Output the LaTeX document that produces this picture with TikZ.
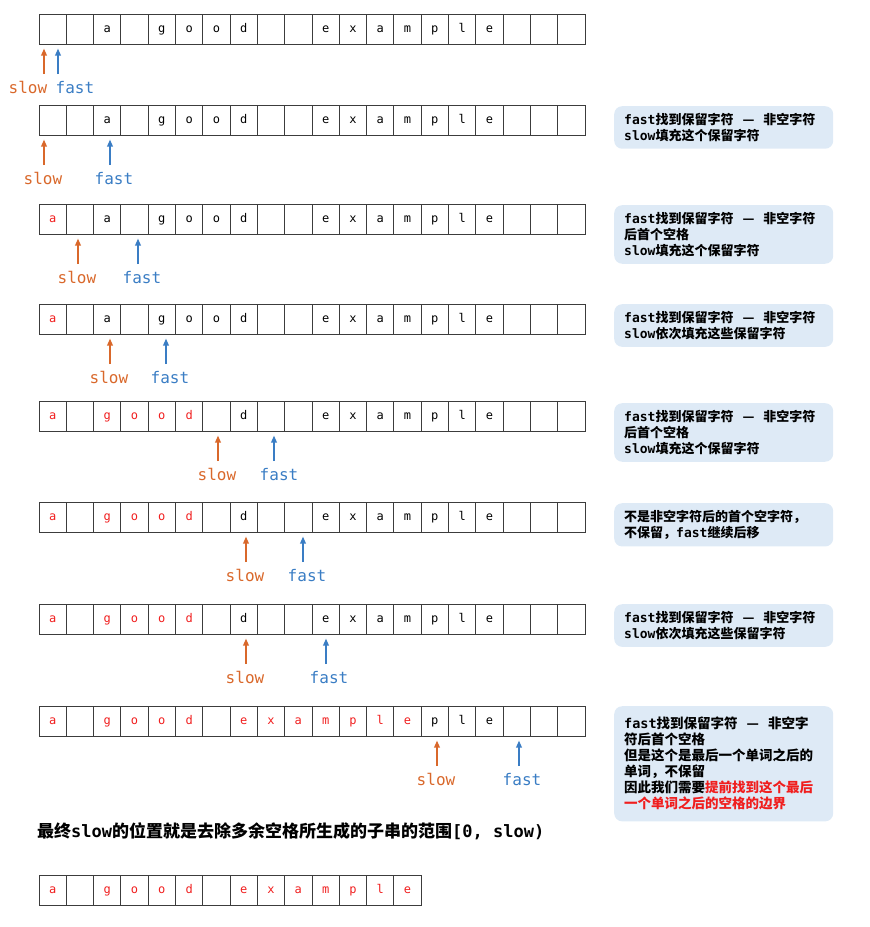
\documentclass[tikz,border=0pt]{standalone}
\usepackage{fontspec}
\usetikzlibrary{arrows.meta}
\newfontfamily\cjk{Noto Sans CJK SC}
\newfontfamily\mono{DejaVu Sans Mono}
\newcommand{\tm}[1]{{\mono #1}}
\definecolor{slowc}{RGB}{217,104,43}
\definecolor{fastc}{RGB}{58,125,196}
\definecolor{keepc}{RGB}{240,30,30}
\definecolor{notec}{RGB}{222,234,246}
\definecolor{cellc}{RGB}{60,60,60}
\tikzset{
	cell/.style={draw=cellc, line width=1pt, minimum width=27.3pt, minimum height=30pt,
		inner sep=0pt, text height=7pt, text depth=0pt, font=\mono\fontsize{12}{12}\selectfont},
	lab/.style={inner sep=0pt, font=\mono\fontsize{16}{16}\selectfont},
	ptr/.style={line width=1.6pt, -{Triangle[length=7pt,width=5.5pt]}, shorten >=4pt},
	note/.style={fill=notec, rounded corners=8pt, text width=199pt, align=left,
		inner xsep=10pt, inner ysep=7pt, font=\cjk\bfseries\fontsize{13}{16}\selectfont},
}
% una riga della stringa: nome, y, quanti caratteri in rosso, caratteri
\newcommand{\strrow}[4]{%
	\foreach \ch [count=\i from 0] in {#4} {
		\ifnum\i<#3 \def\col{keepc}\else\def\col{black}\fi
		\node[cell, text=\col] (#1-\i) at (52.65+27.3*\i,#2) {\ch};
	}}
\begin{document}
\begin{tikzpicture}[x=1pt,y=-1pt]
	\useasboundingbox (0,0) rectangle (870,927);

	% Le righe della stringa
	\strrow{r1}{29}{0}{{},{},a,{},g,o,o,d,{},{},e,x,a,m,p,l,e,{},{},{}}
	\strrow{r2}{120}{0}{{},{},a,{},g,o,o,d,{},{},e,x,a,m,p,l,e,{},{},{}}
	\strrow{r3}{219}{1}{a,{},a,{},g,o,o,d,{},{},e,x,a,m,p,l,e,{},{},{}}
	\strrow{r4}{319}{1}{a,{},a,{},g,o,o,d,{},{},e,x,a,m,p,l,e,{},{},{}}
	\strrow{r5}{416}{6}{a,{},g,o,o,d,{},d,{},{},e,x,a,m,p,l,e,{},{},{}}
	\strrow{r6}{517}{6}{a,{},g,o,o,d,{},d,{},{},e,x,a,m,p,l,e,{},{},{}}
	\strrow{r7}{619}{6}{a,{},g,o,o,d,{},d,{},{},e,x,a,m,p,l,e,{},{},{}}
	\strrow{r8}{721}{14}{a,{},g,o,o,d,{},e,x,a,m,p,l,e,p,l,e,{},{},{}}
	\strrow{r9}{890}{14}{a,{},g,o,o,d,{},e,x,a,m,p,l,e}

	% Puntatori slow e fast
	\foreach \r/\ry/\sx/\fx/\slx/\flx in {r1/29/44/58/28/75, r2/120/44/110/43/114,
		r3/219/78/138/77/142, r4/319/110/166/109/170, r5/416/218/274/217/279,
		r6/517/246/303/245/307, r7/619/246/326/245/329, r8/721/437/519/436/522} {
		\node[lab, text=slowc] (\r-slow) at (\slx,\ry+58.5) {slow};
		\node[lab, text=fastc] (\r-fast) at (\flx,\ry+58.5) {fast};
		\coordinate (\r-st) at (\sx,\ry+45);
		\coordinate (\r-ft) at (\fx,\ry+45);
		\draw[ptr, slowc] (\r-st) -- (\r-st |- \r-0.south);
		\draw[ptr, fastc] (\r-ft) -- (\r-ft |- \r-0.south);
	}

	% Note a destra
	\node[note, anchor=north west] (r2-note) at (614,106)
		{\tm{fast}找到保留字符\hspace{9pt}—\hspace{9pt}非空字符\\\tm{slow}填充这个保留字符};
	\node[note, anchor=north west] (r3-note) at (614,205)
		{\tm{fast}找到保留字符\hspace{9pt}—\hspace{9pt}非空字符\\后首个空格\\\tm{slow}填充这个保留字符};
	\node[note, anchor=north west] (r4-note) at (614,304)
		{\tm{fast}找到保留字符\hspace{9pt}—\hspace{9pt}非空字符\\\tm{slow}依次填充这些保留字符};
	\node[note, anchor=north west] (r5-note) at (614,403)
		{\tm{fast}找到保留字符\hspace{9pt}—\hspace{9pt}非空字符\\后首个空格\\\tm{slow}填充这个保留字符};
	\node[note, anchor=north west] (r6-note) at (614,503)
		{不是非空字符后的首个空字符，\\不保留，\tm{fast}继续后移};
	\node[note, anchor=north west] (r7-note) at (614,604)
		{\tm{fast}找到保留字符\hspace{9pt}—\hspace{9pt}非空字符\\\tm{slow}依次填充这些保留字符};
	\node[note, anchor=north west, inner ysep=11pt, font=\cjk\bfseries\fontsize{13.5}{16}\selectfont] (r8-note) at (614,706)
		{\tm{fast}找到保留字符\hspace{9pt}—\hspace{9pt}非空字\\符后首个空格\\但是这个是最后一个单词之后的\\单词，不保留\\因此我们需要\textcolor{keepc}{提前找到这个最后}\\\textcolor{keepc}{一个单词之后的空格的边界}};

	% Conclusione
	\node[anchor=west, inner sep=0pt, font=\cjk\bfseries\fontsize{17}{17}\selectfont] (title) at (37,831)
		{最终\tm{slow}的位置就是去除多余空格所生成的子串的范围\tm{[0, slow)}};
\end{tikzpicture}
\end{document}
